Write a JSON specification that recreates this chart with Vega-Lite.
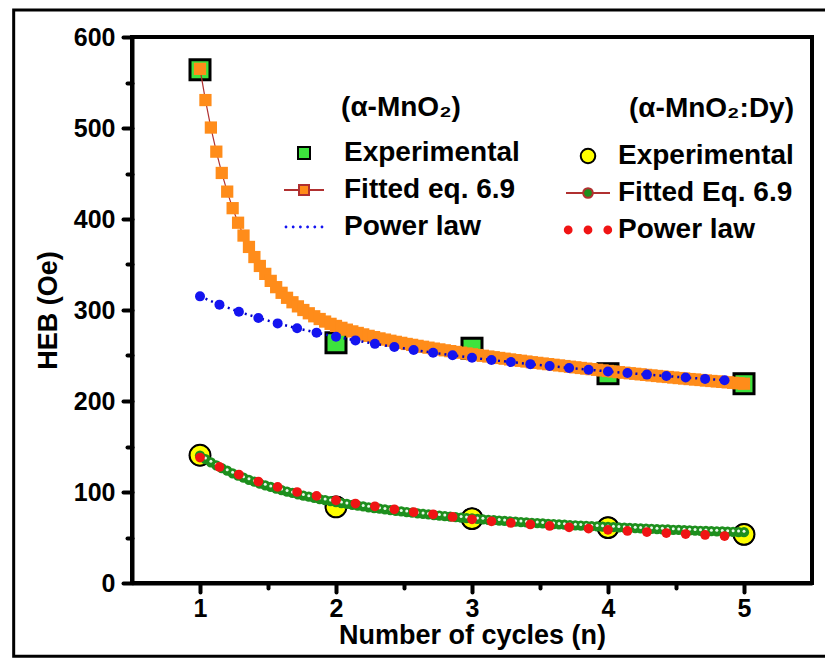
{
"$schema": "https://vega.github.io/schema/vega-lite/v6.json",
"width": 680, "height": 546,
"autosize": {"type": "none"},
"padding": {"left": 132, "top": 37, "right": 13, "bottom": 84},
"background": "white",
"config": {
  "view": {"stroke": "black", "strokeWidth": 4},
  "font": "Liberation Sans",
  "axis": {"grid": false, "domainColor": "black", "domainWidth": 4, "tickColor": "black", "tickWidth": 4, "tickSize": 9, "tickCap": "round",
    "labelFont": "Liberation Sans", "labelFontSize": 25, "labelFontWeight": "bold", "labelColor": "black",
    "titleFont": "Liberation Sans", "titleFontSize": 27, "titleFontWeight": "bold", "titleColor": "black", "titleLimit": 600},
  "legend": {"labelFont": "Liberation Sans", "labelFontWeight": "bold", "labelColor": "black", "labelLimit": 400,
    "titleFont": "Liberation Sans", "titleFontWeight": "bold", "titleColor": "black", "titleLimit": 400, "padding": 0, "symbolOffset": 0}
},
"datasets": {
  "mno2_exp": [{"n":1,"H":564,"series":"Experimental"},{"n":2,"H":264,"series":"Experimental"},{"n":3,"H":258,"series":"Experimental"},{"n":4,"H":230,"series":"Experimental"},{"n":5,"H":219,"series":"Experimental"}],
  "dy_exp": [{"n":1,"H":140.4,"series":"Experimental"},{"n":2,"H":83.6,"series":"Experimental"},{"n":3,"H":70.8,"series":"Experimental"},{"n":4,"H":60.9,"series":"Experimental"},{"n":5,"H":53.5,"series":"Experimental"}],
  "mno2_fit": [
{"n":1.00,"H":565.0},{"n":1.04,"H":530.7},{"n":1.08,"H":500.5},{"n":1.12,"H":474.0},{"n":1.16,"H":450.6},{"n":1.20,"H":430.1},{"n":1.24,"H":411.9},{"n":1.28,"H":395.9},{"n":1.32,"H":381.8},{"n":1.36,"H":369.3},
{"n":1.40,"H":358.2},{"n":1.44,"H":348.4},{"n":1.48,"H":339.7},{"n":1.52,"H":332.0},{"n":1.56,"H":325.1},{"n":1.60,"H":318.9},{"n":1.64,"H":313.4},{"n":1.68,"H":308.5},{"n":1.72,"H":304.0},{"n":1.76,"H":300.0},
{"n":1.80,"H":296.4},{"n":1.84,"H":293.1},{"n":1.88,"H":290.1},{"n":1.92,"H":287.3},{"n":1.96,"H":284.8},{"n":2.00,"H":282.5},{"n":2.04,"H":280.4},{"n":2.08,"H":278.4},{"n":2.12,"H":276.5},{"n":2.16,"H":274.8},
{"n":2.20,"H":273.2},{"n":2.24,"H":271.6},{"n":2.28,"H":270.2},{"n":2.32,"H":268.8},{"n":2.36,"H":267.5},{"n":2.40,"H":266.2},{"n":2.44,"H":265.0},{"n":2.48,"H":263.9},{"n":2.52,"H":262.7},{"n":2.56,"H":261.7},
{"n":2.60,"H":260.6},{"n":2.64,"H":259.6},{"n":2.68,"H":258.6},{"n":2.72,"H":257.6},{"n":2.76,"H":256.7},{"n":2.80,"H":255.7},{"n":2.84,"H":254.8},{"n":2.88,"H":253.9},{"n":2.92,"H":253.1},{"n":2.96,"H":252.2},
{"n":3.00,"H":251.3},{"n":3.04,"H":250.5},{"n":3.08,"H":249.7},{"n":3.12,"H":248.9},{"n":3.16,"H":248.1},{"n":3.20,"H":247.3},{"n":3.24,"H":246.5},{"n":3.28,"H":245.7},{"n":3.32,"H":244.9},{"n":3.36,"H":244.2},
{"n":3.40,"H":243.4},{"n":3.44,"H":242.6},{"n":3.48,"H":241.9},{"n":3.52,"H":241.2},{"n":3.56,"H":240.5},{"n":3.60,"H":239.8},{"n":3.64,"H":239.1},{"n":3.68,"H":238.4},{"n":3.72,"H":237.7},{"n":3.76,"H":237.0},
{"n":3.80,"H":236.3},{"n":3.84,"H":235.6},{"n":3.88,"H":235.0},{"n":3.92,"H":234.3},{"n":3.96,"H":233.6},{"n":4.00,"H":233.0},{"n":4.04,"H":232.4},{"n":4.08,"H":231.7},{"n":4.12,"H":231.1},{"n":4.16,"H":230.5},
{"n":4.20,"H":229.9},{"n":4.24,"H":229.3},{"n":4.28,"H":228.7},{"n":4.32,"H":228.1},{"n":4.36,"H":227.5},{"n":4.40,"H":226.9},{"n":4.44,"H":226.4},{"n":4.48,"H":225.8},{"n":4.52,"H":225.2},{"n":4.56,"H":224.7},
{"n":4.60,"H":224.1},{"n":4.64,"H":223.6},{"n":4.68,"H":223.1},{"n":4.72,"H":222.5},{"n":4.76,"H":222.0},{"n":4.80,"H":221.5},{"n":4.84,"H":221.0},{"n":4.88,"H":220.5},{"n":4.92,"H":220.0},{"n":4.96,"H":219.5},
{"n":5.00,"H":219.0}],
  "dy_fit": [
{"n":1.00,"H":140.0},{"n":1.04,"H":136.2},{"n":1.08,"H":132.6},{"n":1.12,"H":129.3},{"n":1.16,"H":126.2},{"n":1.20,"H":123.4},{"n":1.24,"H":120.6},{"n":1.28,"H":118.1},{"n":1.32,"H":115.7},{"n":1.36,"H":113.4},
{"n":1.40,"H":111.3},{"n":1.44,"H":109.2},{"n":1.48,"H":107.3},{"n":1.52,"H":105.5},{"n":1.56,"H":103.7},{"n":1.60,"H":102.1},{"n":1.64,"H":100.5},{"n":1.68,"H":99.0},{"n":1.72,"H":97.5},{"n":1.76,"H":96.1},
{"n":1.80,"H":94.8},{"n":1.84,"H":93.5},{"n":1.88,"H":92.3},{"n":1.92,"H":91.2},{"n":1.96,"H":90.0},{"n":2.00,"H":88.9},{"n":2.04,"H":87.9},{"n":2.08,"H":86.9},{"n":2.12,"H":85.9},{"n":2.16,"H":85.0},
{"n":2.20,"H":84.1},{"n":2.24,"H":83.2},{"n":2.28,"H":82.4},{"n":2.32,"H":81.6},{"n":2.36,"H":80.8},{"n":2.40,"H":80.0},{"n":2.44,"H":79.3},{"n":2.48,"H":78.6},{"n":2.52,"H":77.9},{"n":2.56,"H":77.2},
{"n":2.60,"H":76.5},{"n":2.64,"H":75.9},{"n":2.68,"H":75.3},{"n":2.72,"H":74.7},{"n":2.76,"H":74.1},{"n":2.80,"H":73.5},{"n":2.84,"H":73.0},{"n":2.88,"H":72.5},{"n":2.92,"H":71.9},{"n":2.96,"H":71.4},
{"n":3.00,"H":70.9},{"n":3.04,"H":70.4},{"n":3.08,"H":70.0},{"n":3.12,"H":69.5},{"n":3.16,"H":69.1},{"n":3.20,"H":68.6},{"n":3.24,"H":68.2},{"n":3.28,"H":67.8},{"n":3.32,"H":67.4},{"n":3.36,"H":67.0},
{"n":3.40,"H":66.6},{"n":3.44,"H":66.2},{"n":3.48,"H":65.8},{"n":3.52,"H":65.4},{"n":3.56,"H":65.1},{"n":3.60,"H":64.7},{"n":3.64,"H":64.4},{"n":3.68,"H":64.1},{"n":3.72,"H":63.7},{"n":3.76,"H":63.4},
{"n":3.80,"H":63.1},{"n":3.84,"H":62.8},{"n":3.88,"H":62.5},{"n":3.92,"H":62.2},{"n":3.96,"H":61.9},{"n":4.00,"H":61.6},{"n":4.04,"H":61.3},{"n":4.08,"H":61.0},{"n":4.12,"H":60.8},{"n":4.16,"H":60.5},
{"n":4.20,"H":60.2},{"n":4.24,"H":60.0},{"n":4.28,"H":59.7},{"n":4.32,"H":59.5},{"n":4.36,"H":59.2},{"n":4.40,"H":59.0},{"n":4.44,"H":58.8},{"n":4.48,"H":58.5},{"n":4.52,"H":58.3},{"n":4.56,"H":58.1},
{"n":4.60,"H":57.9},{"n":4.64,"H":57.6},{"n":4.68,"H":57.4},{"n":4.72,"H":57.2},{"n":4.76,"H":57.0},{"n":4.80,"H":56.8},{"n":4.84,"H":56.6},{"n":4.88,"H":56.4},{"n":4.92,"H":56.2},{"n":4.96,"H":56.0},
{"n":5.00,"H":55.8}],
  "mno2_pow": [
{"n":1,"H":315.0},{"n":1.143,"H":305.9},{"n":1.286,"H":298.1},{"n":1.429,"H":291.3},{"n":1.571,"H":285.3},{"n":1.714,"H":279.9},{"n":1.857,"H":275.1},{"n":2,"H":270.6},{"n":2.143,"H":266.6},{"n":2.286,"H":262.8},
{"n":2.429,"H":259.4},{"n":2.571,"H":256.1},{"n":2.714,"H":253.1},{"n":2.857,"H":250.3},{"n":3,"H":247.6},{"n":3.143,"H":245.1},{"n":3.286,"H":242.8},{"n":3.429,"H":240.5},{"n":3.571,"H":238.4},{"n":3.714,"H":236.3},
{"n":3.857,"H":234.4},{"n":4,"H":232.5},{"n":4.143,"H":230.7},{"n":4.286,"H":229.0},{"n":4.429,"H":227.4},{"n":4.571,"H":225.8},{"n":4.714,"H":224.3},{"n":4.857,"H":222.8}],
  "dy_pow": [
{"n":1,"H":137.9},{"n":1.143,"H":127.5},{"n":1.286,"H":119.2},{"n":1.429,"H":111.5},{"n":1.571,"H":105.6},{"n":1.714,"H":100.0},{"n":1.857,"H":95.7},{"n":2,"H":90.9},{"n":2.143,"H":87.3},{"n":2.286,"H":84.3},
{"n":2.429,"H":81.0},{"n":2.571,"H":78.0},{"n":2.714,"H":75.5},{"n":2.857,"H":72.6},{"n":3,"H":70.0},{"n":3.143,"H":67.8},{"n":3.286,"H":66.0},{"n":3.429,"H":64.3},{"n":3.571,"H":62.7},{"n":3.714,"H":61.2},
{"n":3.857,"H":59.8},{"n":4,"H":58.4},{"n":4.143,"H":57.2},{"n":4.286,"H":56.0},{"n":4.429,"H":54.9},{"n":4.571,"H":53.8},{"n":4.714,"H":52.8},{"n":4.857,"H":51.6}]
},
"resolve": {"scale": {"fill": "independent", "shape": "independent", "stroke": "independent"}, "axis": {"x": "independent", "y": "independent"}},
"layer": [
  {"data": {"values": [{}]},
   "mark": {"type": "rect", "fill": "transparent", "stroke": "black", "strokeWidth": 3},
   "encoding": {
     "x": {"datum": -0.37, "type": "quantitative", "scale": {"domain": [0.5, 5.5], "nice": false}, "axis": null},
     "x2": {"datum": 5.7},
     "y": {"datum": -80.6, "type": "quantitative", "scale": {"domain": [0, 600], "nice": false}, "axis": null},
     "y2": {"datum": 629.7}}},
  {"data": {"name": "mno2_exp"},
   "mark": {"type": "point", "shape": "square", "filled": true, "color": "black", "size": 529, "opacity": 1},
   "encoding": {
     "x": {"field": "n", "type": "quantitative", "scale": {"domain": [0.5, 5.5], "nice": false},
       "axis": {"orient": "bottom", "values": [1, 2, 3, 4, 5], "format": "d", "title": "Number of cycles (n)", "labelPadding": 4, "titlePadding": 1}},
     "y": {"field": "H", "type": "quantitative", "scale": {"domain": [0, 600], "nice": false},
       "axis": {"orient": "left", "values": [0, 100, 200, 300, 400, 500, 600], "title": "HEB (Oe)", "labelPadding": 8, "titlePadding": 11}}}},
  {"data": {"name": "dy_exp"},
   "mark": {"type": "point", "shape": "circle", "filled": true, "color": "black", "size": 491, "opacity": 1},
   "encoding": {
     "x": {"field": "n", "type": "quantitative", "scale": {"domain": [0.5, 5.5], "nice": false},
       "axis": {"orient": "bottom", "values": [1.5, 2.5, 3.5, 4.5], "labels": false, "domain": false, "tickSize": 5, "title": null}},
     "y": {"field": "H", "type": "quantitative", "scale": {"domain": [0, 600], "nice": false},
       "axis": {"orient": "left", "values": [50, 150, 250, 350, 450, 550], "labels": false, "domain": false, "tickSize": 5, "title": null}}}},
  {"data": {"name": "mno2_exp"},
   "mark": {"type": "point", "filled": true, "size": 4000, "strokeWidth": 2, "opacity": 1},
   "encoding": {
     "x": {"field": "n", "type": "quantitative", "scale": {"domain": [0.5, 5.5], "nice": false}, "axis": null},
     "y": {"field": "H", "type": "quantitative", "scale": {"domain": [0, 600], "nice": false}, "axis": null},
     "fill": {"field": "series", "type": "nominal",
       "scale": {"domain": ["Experimental", "Fitted eq. 6.9", "Power law"], "range": ["#3de33d", "#ff8c1a", "#1414f0"]},
       "legend": {"title": "(α-MnO₂)", "orient": "none", "legendX": 151, "legendY": 57, "titleAnchor": "middle", "titleFontSize": 28, "titlePadding": 10, "labelFontSize": 28, "labelOffset": 19, "symbolSize": 1600, "symbolStrokeWidth": 2, "rowPadding": 2}},
     "shape": {"field": "series", "type": "nominal",
       "scale": {"domain": ["Experimental", "Fitted eq. 6.9", "Power law"], "range": [
         "M-0.3,-0.3H0.3V0.3H-0.3Z",
         "M-1,0H-0.25M0.25,0H1M-0.25,-0.25H0.25V0.25H-0.25Z",
         "M-0.97,0A0.07,0.07,0,1,0,-0.83,0A0.07,0.07,0,1,0,-0.97,0ZM-0.61,0A0.07,0.07,0,1,0,-0.47,0A0.07,0.07,0,1,0,-0.61,0ZM-0.25,0A0.07,0.07,0,1,0,-0.11,0A0.07,0.07,0,1,0,-0.25,0ZM0.11,0A0.07,0.07,0,1,0,0.25,0A0.07,0.07,0,1,0,0.11,0ZM0.47,0A0.07,0.07,0,1,0,0.61,0A0.07,0.07,0,1,0,0.47,0ZM0.83,0A0.07,0.07,0,1,0,0.97,0A0.07,0.07,0,1,0,0.83,0Z"]},
       "legend": {"title": "(α-MnO₂)", "orient": "none", "legendX": 151, "legendY": 57, "titleAnchor": "middle", "titleFontSize": 28, "titlePadding": 10, "labelFontSize": 28, "labelOffset": 19, "symbolSize": 1600, "symbolStrokeWidth": 2, "rowPadding": 2}},
     "stroke": {"field": "series", "type": "nominal",
       "scale": {"domain": ["Experimental", "Fitted eq. 6.9", "Power law"], "range": ["black", "#b03030", "transparent"]},
       "legend": {"title": "(α-MnO₂)", "orient": "none", "legendX": 151, "legendY": 57, "titleAnchor": "middle", "titleFontSize": 28, "titlePadding": 10, "labelFontSize": 28, "labelOffset": 19, "symbolSize": 1600, "symbolStrokeWidth": 2, "rowPadding": 2}}}},
  {"data": {"name": "dy_exp"},
   "mark": {"type": "point", "filled": true, "size": 4000, "strokeWidth": 2, "opacity": 1},
   "encoding": {
     "x": {"field": "n", "type": "quantitative", "scale": {"domain": [0.5, 5.5], "nice": false}, "axis": null},
     "y": {"field": "H", "type": "quantitative", "scale": {"domain": [0, 600], "nice": false}, "axis": null},
     "fill": {"field": "series", "type": "nominal",
       "scale": {"domain": ["Experimental", "Fitted Eq. 6.9", "Power law"], "range": ["#ffff00", "#1d8f1d", "#f01414"]},
       "legend": {"title": "(α-MnO₂:Dy)", "orient": "none", "legendX": 433, "legendY": 58, "titleAnchor": "end", "titleFontSize": 28, "titlePadding": 10, "labelFontSize": 28, "labelOffset": 7, "symbolSize": 1936, "symbolStrokeWidth": 2, "rowPadding": 0}},
     "shape": {"field": "series", "type": "nominal",
       "scale": {"domain": ["Experimental", "Fitted Eq. 6.9", "Power law"], "range": [
         "M-0.33,0A0.33,0.33,0,1,0,0.33,0A0.33,0.33,0,1,0,-0.33,0Z",
         "M-1,0H-0.22M0.22,0H1M-0.22,0A0.22,0.22,0,1,0,0.22,0A0.22,0.22,0,1,0,-0.22,0Z",
         "M-1.1,0A0.2,0.2,0,1,0,-0.7,0A0.2,0.2,0,1,0,-1.1,0ZM-0.2,0A0.2,0.2,0,1,0,0.2,0A0.2,0.2,0,1,0,-0.2,0ZM0.7,0A0.2,0.2,0,1,0,1.1,0A0.2,0.2,0,1,0,0.7,0Z"]},
       "legend": {"title": "(α-MnO₂:Dy)", "orient": "none", "legendX": 433, "legendY": 58, "titleAnchor": "end", "titleFontSize": 28, "titlePadding": 10, "labelFontSize": 28, "labelOffset": 7, "symbolSize": 1936, "symbolStrokeWidth": 2, "rowPadding": 0}},
     "stroke": {"field": "series", "type": "nominal",
       "scale": {"domain": ["Experimental", "Fitted Eq. 6.9", "Power law"], "range": ["black", "#b03030", "transparent"]},
       "legend": {"title": "(α-MnO₂:Dy)", "orient": "none", "legendX": 433, "legendY": 58, "titleAnchor": "end", "titleFontSize": 28, "titlePadding": 10, "labelFontSize": 28, "labelOffset": 7, "symbolSize": 1936, "symbolStrokeWidth": 2, "rowPadding": 0}}}},
  {"data": {"name": "mno2_fit"},
   "mark": {"type": "line", "color": "#b03030", "strokeWidth": 1.2},
   "encoding": {
     "x": {"field": "n", "type": "quantitative", "scale": {"domain": [0.5, 5.5], "nice": false}, "axis": null},
     "y": {"field": "H", "type": "quantitative", "scale": {"domain": [0, 600], "nice": false}, "axis": null}}},
  {"data": {"name": "mno2_fit"},
   "mark": {"type": "point", "shape": "square", "filled": true, "color": "#ff8c1a", "size": 150, "opacity": 1},
   "encoding": {
     "x": {"field": "n", "type": "quantitative", "scale": {"domain": [0.5, 5.5], "nice": false}, "axis": null},
     "y": {"field": "H", "type": "quantitative", "scale": {"domain": [0, 600], "nice": false}, "axis": null}}},
  {"data": {"name": "dy_fit"},
   "mark": {"type": "line", "color": "#b03030", "strokeWidth": 1.2},
   "encoding": {
     "x": {"field": "n", "type": "quantitative", "scale": {"domain": [0.5, 5.5], "nice": false}, "axis": null},
     "y": {"field": "H", "type": "quantitative", "scale": {"domain": [0, 600], "nice": false}, "axis": null}}},
  {"data": {"name": "dy_fit"},
   "mark": {"type": "point", "shape": "circle", "filled": true, "color": "#1d8f1d", "size": 105, "opacity": 1},
   "encoding": {
     "x": {"field": "n", "type": "quantitative", "scale": {"domain": [0.5, 5.5], "nice": false}, "axis": null},
     "y": {"field": "H", "type": "quantitative", "scale": {"domain": [0, 600], "nice": false}, "axis": null}}},
  {"data": {"name": "dy_fit"},
   "mark": {"type": "point", "shape": "circle", "filled": true, "color": "#f2fff2", "size": 9, "opacity": 0.95, "yOffset": -1},
   "encoding": {
     "x": {"field": "n", "type": "quantitative", "scale": {"domain": [0.5, 5.5], "nice": false}, "axis": null},
     "y": {"field": "H", "type": "quantitative", "scale": {"domain": [0, 600], "nice": false}, "axis": null}}},
  {"data": {"name": "mno2_pow"},
   "mark": {"type": "line", "color": "#0000c8", "strokeWidth": 2.5, "strokeDash": [2, 4]},
   "encoding": {
     "x": {"field": "n", "type": "quantitative", "scale": {"domain": [0.5, 5.5], "nice": false}, "axis": null},
     "y": {"field": "H", "type": "quantitative", "scale": {"domain": [0, 600], "nice": false}, "axis": null}}},
  {"data": {"name": "mno2_pow"},
   "mark": {"type": "point", "shape": "circle", "filled": true, "color": "#1414f0", "size": 100, "opacity": 1},
   "encoding": {
     "x": {"field": "n", "type": "quantitative", "scale": {"domain": [0.5, 5.5], "nice": false}, "axis": null},
     "y": {"field": "H", "type": "quantitative", "scale": {"domain": [0, 600], "nice": false}, "axis": null}}},
  {"data": {"name": "dy_pow"},
   "mark": {"type": "point", "shape": "circle", "filled": true, "color": "#f01414", "size": 95, "opacity": 1},
   "encoding": {
     "x": {"field": "n", "type": "quantitative", "scale": {"domain": [0.5, 5.5], "nice": false}, "axis": null},
     "y": {"field": "H", "type": "quantitative", "scale": {"domain": [0, 600], "nice": false}, "axis": null}}}
]
}
